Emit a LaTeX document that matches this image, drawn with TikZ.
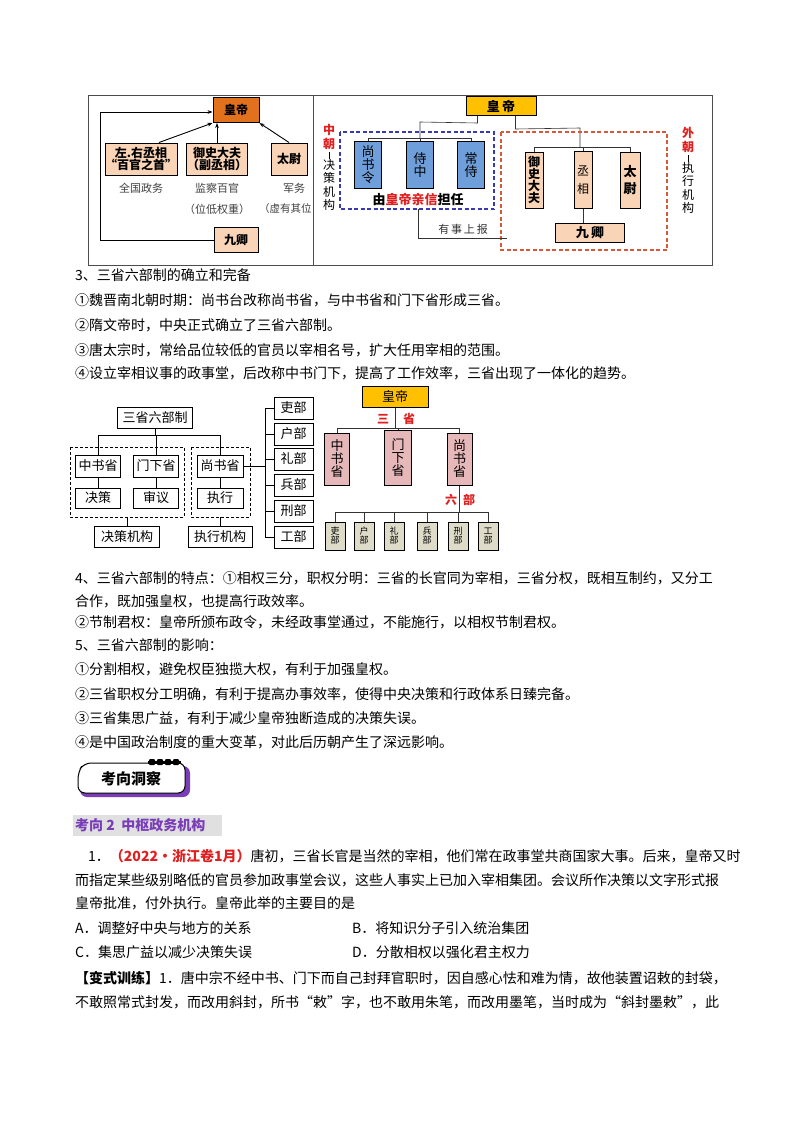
\documentclass[tikz,border=0pt]{standalone}
\usepackage{fontspec}
\setmainfont{Noto Sans CJK SC}
\usetikzlibrary{arrows.meta}
\definecolor{peach}{HTML}{FAD4B6}
\definecolor{orng}{HTML}{E2711D}
\definecolor{gold}{HTML}{FFC000}
\definecolor{bluebox}{HTML}{6F9FDA}
\definecolor{pinkbox}{HTML}{E6B8BA}
\definecolor{khaki}{HTML}{DEDCC8}
\definecolor{redt}{HTML}{E02020}
\definecolor{purp}{HTML}{7A3DB8}
\definecolor{bdash}{HTML}{3A3AB0}
\definecolor{rdash}{HTML}{D65A3A}
\tikzset{
 bx/.style={draw=black,line width=1pt,inner sep=0pt,align=center},
 body/.style={anchor=west,inner sep=0pt,font=\fontsize{14}{16}\selectfont},
 ln/.style={draw=black,line width=0.9pt},
 thin/.style={draw=black!80,line width=0.6pt},
 vlab/.style={inner sep=0pt,align=center,font=\fontsize{12}{13.5}\selectfont},
}
\newcommand{\fs}[1]{\fontsize{#1}{#1}\selectfont}
\begin{document}
\begin{tikzpicture}[x=1pt,y=-1pt]
\useasboundingbox[fill=white] (0,0) rectangle (800,1132);
% ===== top diagram frame
\draw[line width=0.8pt,black!70] (88,95) rectangle (712,265);
\draw[line width=0.8pt,black!70] (313,95) -- (313,265);
% left part
\node[bx,fill=orng,minimum width=46pt,minimum height=25pt,font=\fs{12}\bfseries] (hd1) at (236,110) {皇帝};
\node[bx,fill=peach,minimum width=65pt,minimum height=32pt,font=\fs{12}\bfseries] (zx) at (141,159) {左.右丞相\\“百官之首”};
\node[bx,fill=peach,minimum width=61pt,minimum height=32pt,font=\fs{12}\bfseries] (ys) at (217,159) {御史大夫\\（副丞相）};
\node[bx,fill=peach,minimum width=36pt,minimum height=32pt,font=\fs{12}\bfseries] (tw) at (289,159) {太尉};
\node[bx,fill=peach,minimum width=44pt,minimum height=25pt,font=\fs{12}\bfseries] (jq1) at (236,240) {九卿};
\node[font=\fs{11},text=black!75] (t1) at (141,188) {全国政务};
\node[font=\fs{11},text=black!75] (t2) at (217,188) {监察百官};
\node[font=\fs{11},text=black!75] (t3) at (294,188) {军务};
\node[font=\fs{11},text=black!75] (t4) at (217,209) {（位低权重）};
\node[font=\fs{10.5},text=black!75,anchor=west,inner sep=0pt] (t5) at (259,209) {（虚有其位};
\draw[ln,-{Stealth[length=5pt]}] (zx.north) ++(18,0) -- (hd1.south west);
\draw[ln,-{Stealth[length=5pt]}] (ys.north) -- (ys.north |- hd1.south);
\draw[ln,-{Stealth[length=5pt]}] (tw.north) -- (hd1.south east);
\draw[ln,-{Stealth[length=5pt]}] (jq1.west) -- (100,240) -- (100,112) -- (hd1.west |- 0,112);
% right part
\node[bx,fill=gold,minimum width=70pt,minimum height=19pt,font=\fs{13}\bfseries] (hd2) at (501,106) {皇\,帝};
\foreach \n/\x/\t in {a/368/尚\\书\\令, b/420/侍\\中, c/471/常\\侍}{
 \node[bx,fill=bluebox,minimum width=27pt,minimum height=47pt,font=\fs{13}] (\n) at (\x,165) {\t};
}
\node[bx,fill=peach,minimum width=18pt,minimum height=56pt,font=\fs{12}\bfseries] (d) at (534,180) {御\\史\\大\\夫};
\node[bx,fill=peach,minimum width=18pt,minimum height=57pt,font=\fs{12}] (e) at (583,180) {丞\\[6pt]相};
\node[bx,fill=peach,minimum width=20pt,minimum height=56pt,font=\fs{13}\bfseries] (f) at (630,180) {太\\[4pt]尉};
\node[bx,fill=peach,minimum width=69pt,minimum height=19pt,font=\fs{13}\bfseries] (jq2) at (590,233) {九\,卿};
\draw[thin] (hd2.south west) ++(12,0) -- ++(0,7) -- (420,122) -- (420,138);
\draw[thin] (a.north) -- (368,138) -- (471,138) -- (c.north);
\draw[thin] (b.north) -- (420,138);
\draw[thin] (hd2.south east) ++(-21,0) -- ++(0,13) -- (580,128) -- (580,147);
\draw[thin] (d.north) -- (534,147) -- (630,147) -- (f.north);
\draw[thin] (e.north) -- (583,147);
\draw[thin] (e.south) -- (jq2.north -| e.south);
\draw[bdash,dashed,line width=1.2pt,dash pattern=on 4pt off 2.5pt] (340,132) rectangle (494,209);
\draw[rdash,dashed,line width=1.2pt,dash pattern=on 4pt off 2.5pt] (501,132) rectangle (667,250);
\node[font=\fs{13}\bfseries] (yq) at (418,200) {由\textcolor{redt}{皇帝亲信}担任};
\coordinate (ys1) at (418,209);
\coordinate (ys2) at (507,238);
\draw[thin] (ys1) -- (418,238) -- (ys2);
\node[font=\fs{11},text=black!80] (yssb) at (463,229) {有\,事\,上\,报};
\node[vlab,font=\fontsize{12}{13.5}\selectfont\bfseries,text=redt] (zc) at (329,137) {中\\朝};
\draw[line width=0.8pt] (329,152) -- (329,159);
\node[vlab] (zc2) at (329,185) {决\\策\\机\\构};
\node[vlab,font=\fontsize{12}{13.5}\selectfont\bfseries,text=redt] (wc) at (688,140) {外\\朝};
\draw[line width=0.8pt] (688,155) -- (688,162);
\node[vlab] (wc2) at (688,188) {执\\行\\机\\构};
% ===== section 3 text
\node[body] (p1) at (75,275) {3、三省六部制的确立和完备};
\node[body] (p2) at (75,300) {①魏晋南北朝时期：尚书台改称尚书省，与中书省和门下省形成三省。};
\node[body] (p3) at (75,325) {②隋文帝时，中央正式确立了三省六部制。};
\node[body] (p4) at (75,350) {③唐太宗时，常给品位较低的官员以宰相名号，扩大任用宰相的范围。};
\node[body] (p5) at (75,373) {④设立宰相议事的政事堂，后改称中书门下，提高了工作效率，三省出现了一体化的趋势。};
% ===== middle left diagram
\tikzset{mb/.style={draw=black,line width=1pt,fill=white,inner sep=0pt,font=\fs{13}}}
\node[mb,minimum width=75pt,minimum height=21pt] (sl) at (155,418) {三省六部制};
\draw[dashed,line width=0.8pt,dash pattern=on 3pt off 2pt] (70,447) rectangle (184,517);
\draw[dashed,line width=0.8pt,dash pattern=on 3pt off 2pt] (191,447) rectangle (250,517);
\node[mb,minimum width=45pt,minimum height=22pt] (zs) at (98,466) {中书省};
\node[mb,minimum width=45pt,minimum height=22pt] (mx) at (156,466) {门下省};
\node[mb,minimum width=46pt,minimum height=22pt] (ss) at (220,466) {尚书省};
\node[mb,minimum width=45pt,minimum height=20pt] (jc) at (98,498) {决策};
\node[mb,minimum width=45pt,minimum height=20pt] (sy) at (156,498) {审议};
\node[mb,minimum width=46pt,minimum height=20pt] (zxg) at (220,498) {执行};
\node[mb,minimum width=65pt,minimum height=21pt] (jcjg) at (127,537) {决策机构};
\node[mb,minimum width=64pt,minimum height=21pt] (zxjg) at (220,537) {执行机构};
\draw[ln] (sl.south) -- (155,435);
\draw[ln] (zs.north) -- (98,435) -- (220,435) -- (ss.north);
\draw[ln] (mx.north) -- (156,435);
\draw[ln] (zs.south) -- (jc.north);
\draw[ln] (mx.south) -- (sy.north);
\draw[ln] (ss.south) -- (zxg.north);
\draw[ln] (127,517) -- (jcjg.north);
\draw[ln] (220,517) -- (zxjg.north);
\draw[ln] (ss.east) -- (265,466);
\draw[ln] (265,408) -- (265,537);
\foreach \n/\t/\y in {b1/吏部/408, b2/户部/434, b3/礼部/459, b4/兵部/485, b5/刑部/511, b6/工部/537}{
 \node[mb,minimum width=39pt,minimum height=22pt] (\n) at (293.5,\y) {\t};
 \draw[ln] (265,\y) -- (\n.west);
}
% ===== middle right diagram
\node[bx,fill=gold,minimum width=66pt,minimum height=21pt,font=\fs{13}] (hd3) at (395,397) {皇帝};
\node[font=\fs{12}\bfseries,text=redt] (sx1) at (383,419) {三};
\node[font=\fs{12}\bfseries,text=redt] (sx2) at (409,419) {省};
\draw[thin] (hd3.south) -- (395,428);
\draw[thin] (337,428) -- (460,428);
\node[bx,fill=pinkbox,minimum width=25pt,minimum height=52pt,font=\fs{13}] (m1) at (337,459) {中\\书\\省};
\node[bx,fill=pinkbox,minimum width=27pt,minimum height=55pt,font=\fs{13}] (m2) at (398,457.5) {门\\下\\省};
\node[bx,fill=pinkbox,minimum width=25pt,minimum height=52pt,font=\fs{13}] (m3) at (459.5,459) {尚\\书\\省};
\draw[thin] (337,428) -- (m1.north);
\draw[thin] (398,428) -- (m2.north);
\draw[thin] (459.5,428) -- (m3.north);
\node[font=\fs{12}\bfseries,text=redt] (lb1) at (451,500) {六};
\node[font=\fs{12}\bfseries,text=redt] (lb2) at (469,500) {部};
\draw[thin] (m3.south) -- (459.5,512);
\draw[thin] (335,512) -- (488,512);
\foreach \n/\x/\t in {k1/335/吏\\部, k2/364/户\\部, k3/394/礼\\部, k4/427/兵\\部, k5/458/刑\\部, k6/488/工\\部}{
 \node[bx,line width=0.8pt,fill=khaki,minimum width=20pt,minimum height=28pt,font=\fs{9}] (\n) at (\x,536) {\t};
 \draw[thin] (\x,512) -- (\n.north);
}
% ===== section 4/5 text
\node[body] (q1) at (75,578) {4、三省六部制的特点：①相权三分，职权分明：三省的长官同为宰相，三省分权，既相互制约，又分工};
\node[body] (q2) at (75,601) {合作，既加强皇权，也提高行政效率。};
\node[body] (q3) at (75,622) {②节制君权：皇帝所颁布政令，未经政事堂通过，不能施行，以相权节制君权。};
\node[body] (q4) at (75,645) {5、三省六部制的影响：};
\node[body] (q5) at (75,669) {①分割相权，避免权臣独揽大权，有利于加强皇权。};
\node[body] (q6) at (75,694) {②三省职权分工明确，有利于提高办事效率，使得中央决策和行政体系日臻完备。};
\node[body] (q7) at (75,718) {③三省集思广益，有利于减少皇帝独断造成的决策失误。};
\node[body] (q8) at (75,742) {④是中国政治制度的重大变革，对此后历朝产生了深远影响。};
% ===== banner
\fill[purp,rounded corners=7pt] (86,766) -- (190,766) -- (190,797) -- (80,797) -- (80,776) -- cycle;
\draw[line width=1pt,fill=white,rounded corners=7pt] (84,763) -- (185,763) -- (185,793) -- (78,793) -- (78,772) -- cycle;
\foreach \x in {149,157,165,173}{\fill[black,rounded corners=1pt] (\x,759) rectangle ++(6,6);}
\fill[black] (148,761) rectangle (181,764);
\node[font=\fs{15}\bfseries] (bn) at (131,779) {考向洞察};
\fill[black!12] (73,815) rectangle (222,836);
\node[font=\fs{14}\bfseries,text=purp,anchor=west,inner sep=0pt] (kx) at (75,825.5) {考向 2\ \ 中枢政务机构};
% ===== question
\node[body] (r1) at (88,856) {1．\textcolor{redt}{\bfseries（2022·浙江卷1月）}唐初，三省长官是当然的宰相，他们常在政事堂共商国家大事。后来，皇帝又时};
\node[body] (r2) at (75,880) {而指定某些级别略低的官员参加政事堂会议，这些人事实上已加入宰相集团。会议所作决策以文字形式报};
\node[body] (r3) at (75,903) {皇帝批准，付外执行。皇帝此举的主要目的是};
\node[body] (r4) at (75,928) {A．调整好中央与地方的关系};
\node[body] (r5) at (352,928) {B．将知识分子引入统治集团};
\node[body] (r6) at (75,952) {C．集思广益以减少决策失误};
\node[body] (r7) at (352,952) {D．分散相权以强化君主权力};
\node[body] (r8) at (75,978) {\bfseries【变式训练】\mdseries 1．唐中宗不经中书、门下而自己封拜官职时，因自感心怯和难为情，故他装置诏敕的封袋，};
\node[body] (r9) at (75,1002) {不敢照常式封发，而改用斜封，所书“敕”字，也不敢用朱笔，而改用墨笔，当时成为“斜封墨敕”，此};
\end{tikzpicture}
\end{document}
